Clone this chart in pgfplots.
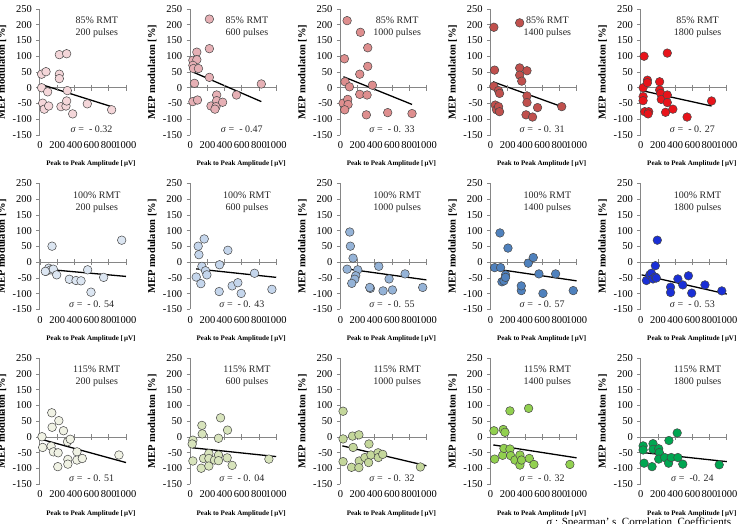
\documentclass[border=0pt]{standalone}
\usepackage{fontspec}
\setmainfont{Liberation Serif}
\usepackage{pgfplots}
\pgfplotsset{compat=1.18}

\definecolor{axgray}{RGB}{134,134,134}
\definecolor{markedge}{RGB}{70,70,70}
% 85% RMT
\definecolor{ca1}{HTML}{F4D6D9}
\definecolor{ca2}{HTML}{E6B0B5}
\definecolor{ca3}{HTML}{DE8E8E}
\definecolor{ca4}{HTML}{C0504D}
\definecolor{ca5}{HTML}{E8141B}
% 100% RMT
\definecolor{cb1}{HTML}{DCE6F2}
\definecolor{cb2}{HTML}{C5D6EC}
\definecolor{cb3}{HTML}{95B3D7}
\definecolor{cb4}{HTML}{4F81BD}
\definecolor{cb5}{HTML}{1A2FD6}
% 115% RMT
\definecolor{cc1}{HTML}{F0F2E4}
\definecolor{cc2}{HTML}{D8E4BC}
\definecolor{cc3}{HTML}{C4D79B}
\definecolor{cc4}{HTML}{92D050}
\definecolor{cc5}{HTML}{00A651}

\pgfplotsset{
  panel/.style={
    scale only axis, width=86pt, height=126pt,
    anchor=south west, clip=false,
    xmin=0, xmax=1000, ymin=-150, ymax=250,
    axis lines*=left,
    x axis line style={draw=none},
    y axis line style={axgray, line width=1pt, -},
    xtick={0,200,...,1000}, ytick={-150,-100,...,250},
    x tick style={draw=none},
    y tick style={axgray, line width=0.8pt},
    ytick align=outside, major tick length=3.5pt,
    tick label style={font=\fontsize{10.5}{12}\selectfont},
    /pgf/number format/assume math mode=true,
    /pgf/number format/1000 sep={},
    yticklabel style={xshift=-1pt},
    xticklabel style={yshift=-3pt},
    xlabel={\textbf{Peak to Peak Amplitude [\,μV]}},
    xlabel style={font=\fontsize{7}{8}\selectfont, at={(axis description cs:0.593,-0.232)}, anchor=center},
    ylabel={\textbf{MEP modulaton [\%]}},
    ylabel style={font=\fontsize{10.5}{12}\selectfont, at={(axis description cs:-0.442,0.5)}, anchor=center},
  }
}

% #1,#2 position; #3 marker colour; #4 intensity; #5 pulses; #6 sigma; #7 data; #8 trend line
\newcommand{\panel}[8]{%
  \begin{axis}[panel, at={(#1,#2)}]
    \addplot[axgray, line width=1pt, mark=|, mark size=3pt, mark options={line width=0.8pt}]
      coordinates {(0,0) (200,0) (400,0) (600,0) (800,0) (1000,0)};
    \addplot[only marks, mark=*, mark size=4.3pt,
      mark options={fill=#3, draw=markedge, line width=0.5pt}] coordinates {#7};
    \addplot[black, line width=1.3pt, no marks] coordinates {#8};
    \node[align=center, font=\fontsize{10}{12}\selectfont, text=black!85]
      at (axis cs:660,192) {#4\\#5};
    \node[font=\fontsize{10}{12}\selectfont, text=black!85]
      at (axis cs:600,-132) {\textit{σ} =\ \ #6};
  \end{axis}}

\begin{document}
\begin{tikzpicture}
\useasboundingbox (0,0) rectangle (740pt,524pt);

% ---------- 85% RMT ----------
\panel{40pt}{389pt}{ca1}{85\% RMT}{200 pulses}{- 0.32}
{(19,43)(70,51)(19,0)(31,-49)(50,-68)(89,-13)(101,-58)(225,105)(310,108)(225,43)(225,29)(244,-60)(302,-58)(310,-42)(318,-9)(380,-83)(550,-51)(833,-70)}
{(19,10)(833,-60)}
\panel{190.2pt}{389pt}{ca2}{85\% RMT}{600 pulses}{- 0.47}
{(223,218)(77,113)(223,124)(31,87)(77,89)(31,71)(38,61)(96,61)(223,33)(50,14)(31,-44)(85,-39)(242,-58)(308,-23)(308,-41)(300,-60)(288,-68)(377,-46)(538,-23)(827,12)}
{(31,50)(827,-44)}
\panel{340.4pt}{389pt}{ca3}{85\% RMT}{1000 pulses}{- 0. 33}
{(78,213)(47,92)(233,176)(318,127)(318,68)(225,43)(54,19)(105,3)(372,8)(31,-49)(85,-37)(89,-53)(50,-70)(225,-21)(310,-23)(302,-86)(550,-79)(833,-82)}
{(35,35)(833,-53)}
\panel{490.6pt}{389pt}{ca4}{85\% RMT}{1400 pulses}{- 0. 31}
{(38,192)(338,206)(46,56)(38,5)(54,-55)(69,-70)(92,-9)(104,-18)(92,-60)(104,-76)(338,63)(338,40)(362,21)(423,54)(423,-26)(423,-47)(412,-86)(488,-93)(546,-63)(827,-60)}
{(27,19)(827,-60)}
\panel{640.8pt}{389pt}{ca5}{85\% RMT}{1800 pulses}{- 0. 27}
{(38,100)(308,110)(27,0)(27,-28)(27,-41)(46,-76)(77,24)(77,16)(92,-76)(85,-83)(219,19)(219,-7)(231,-18)(238,-37)(308,-23)(308,-47)(288,-78)(373,-68)(538,-93)(823,-42)}
{(27,-10)(823,-58)}

% ---------- 100% RMT ----------
\panel{40pt}{214.5pt}{cb1}{100\% RMT}{200 pulses}{- 0. 54}
{(140,51)(950,70)(70,-29)(101,-19)(128,-24)(155,-22)(194,-40)(341,-54)(419,-58)(477,-59)(554,-24)(593,-95)(740,-48)(62,-29)}
{(62,-22)(1000,-45)}
\panel{190.2pt}{214.5pt}{cb2}{100\% RMT}{600 pulses}{- 0. 43}
{(93,51)(101,24)(163,74)(70,-47)(124,-68)(136,-13)(178,-27)(194,-40)(337,-93)(341,-8)(438,38)(488,-75)(554,-65)(593,-99)(748,-35)(950,-86)}
{(70,-21)(1000,-48)}
\panel{340.4pt}{214.5pt}{cb3}{100\% RMT}{1000 pulses}{- 0. 55}
{(109,96)(116,51)(147,13)(78,-22)(202,-24)(178,-43)(167,-54)(132,-67)(349,-83)(341,-80)(446,-13)(496,-91)(566,-53)(605,-88)(752,-37)(957,-80)}
{(70,-21)(1000,-56)}
\panel{490.6pt}{214.5pt}{cb4}{100\% RMT}{1400 pulses}{- 0. 57}
{(109,93)(202,45)(47,-17)(116,-17)(132,-62)(155,-59)(174,-40)(174,-48)(357,-90)(357,-75)(438,-3)(496,15)(562,-37)(609,-99)(756,-37)(961,-90)}
{(47,-21)(1000,-59)}
\panel{640.8pt}{214.5pt}{cb5}{100\% RMT}{1800 pulses}{- 0. 53}
{(192,70)(169,-11)(65,-58)(104,-40)(123,-35)(142,-53)(169,-47)(181,-50)(346,-79)(346,-96)(431,-53)(488,-72)(554,-43)(592,-98)(746,-72)(942,-91)}
{(10,-40)(1000,-101)}

% ---------- 115% RMT ----------
\panel{40pt}{39.7pt}{cc1}{115\% RMT}{200 pulses}{- 0. 51}
{(137,77)(141,31)(219,52)(273,20)(23,1)(31,-33)(129,-29)(156,-47)(211,-50)(207,-94)(320,-15)(352,-7)(324,-71)(324,-86)(430,-47)(430,-73)(492,-68)(918,-57)}
{(12,-7)(1000,-81)}
\panel{190.2pt}{39.7pt}{cc2}{115\% RMT}{600 pulses}{- 0. 04}
{(31,-10)(23,-22)(31,-76)(136,37)(140,10)(128,-99)(155,-68)(217,-52)(217,-68)(217,-92)(283,-73)(329,-4)(329,-57)(329,-75)(353,61)(434,22)(430,-66)(488,-90)(915,-70)}
{(23,-34)(1000,-62)}
\panel{340.4pt}{39.7pt}{cc3}{115\% RMT}{1000 pulses}{- 0. 32}
{(31,82)(31,-6)(31,-78)(141,3)(148,-33)(215,7)(129,-96)(219,-76)(215,-97)(285,-65)(332,-22)(328,-81)(355,-57)(438,-50)(441,-65)(492,-55)(930,-95)}
{(23,-28)(1000,-91)}
\panel{490.6pt}{39.7pt}{cc4}{115\% RMT}{1400 pulses}{- 0. 32}
{(39,20)(47,-70)(147,24)(167,15)(225,83)(442,91)(140,-58)(155,-36)(225,-38)(233,-59)(283,-73)(341,-57)(341,-89)(360,-73)(450,-68)(504,-87)(922,-87)}
{(31,-25)(1000,-66)}
\panel{640.8pt}{39.7pt}{cc5}{115\% RMT}{1800 pulses}{-0. 24}
{(27,-28)(27,-41)(38,-83)(142,-21)(142,-39)(131,-94)(208,-37)(215,-49)(208,-70)(277,-65)(327,-11)(323,-83)(354,-65)(423,13)(431,-65)(488,-86)(912,-88)}
{(15,-49)(1000,-78)}

% footnote
\node[anchor=base west, font=\fontsize{11}{13}\selectfont] at (543pt,-1.5pt)
  {\textit{σ} : Spearman’ s\ \ Correlation\ \ Coefficients};
\end{tikzpicture}
\end{document}
